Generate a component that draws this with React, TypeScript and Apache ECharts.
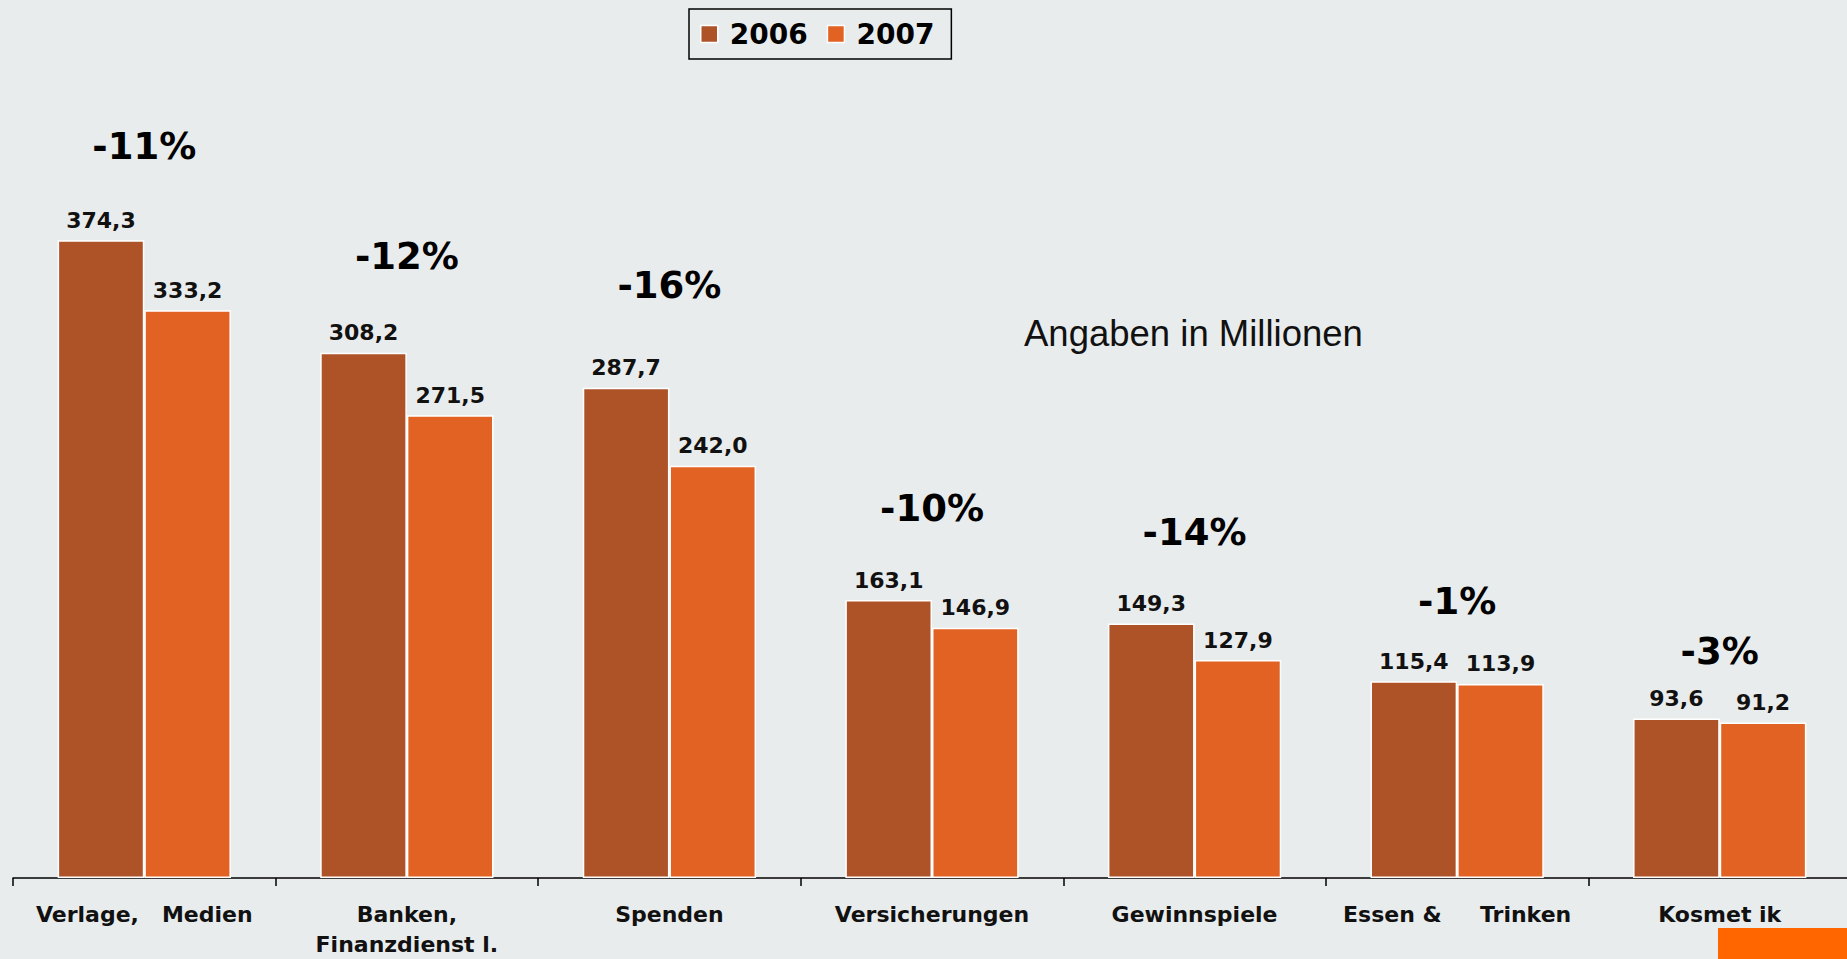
import React, { useEffect, useRef } from "react";
import * as echarts from "echarts";

const categories = [
  "Verlage,   Medien",
  "Banken,\nFinanzdienst l.",
  "Spenden",
  "Versicherungen",
  "Gewinnspiele",
  "Essen &     Trinken",
  "Kosmet ik",
];
const values2006 = [374.3, 308.2, 287.7, 163.1, 149.3, 115.4, 93.6];
const values2007 = [333.2, 271.5, 242.0, 146.9, 127.9, 113.9, 91.2];
const pctTexts = ["-11%", "-12%", "-16%", "-10%", "-14%", "-1%", "-3%"];
// vertical level (in axis units) where each change label sits
const pctLevels = [429, 365, 348, 217, 202.5, 162, 133];

const BG = "#E9ECEC";
const C2006 = "#AE5228";
const C2007 = "#E26223";

export default function App() {
  const ref = useRef<HTMLDivElement>(null);
  useEffect(() => {
    document.body.style.margin = "0";
    document.body.style.background = BG;
    const chart = echarts.init(ref.current!, null, { renderer: "svg" });
    const fmt = (p: any) => Number(p.value).toFixed(1).replace(".", ",");
    const valueLabel = {
      show: true,
      position: "top",
      distance: 9,
      formatter: fmt,
      fontFamily: "DejaVu Sans",
      fontWeight: "bold",
      fontSize: 22,
      color: "#111",
    };
    chart.setOption({
      animation: false,
      backgroundColor: BG,
      legend: {
        data: ["2006", "2007"],
        left: 689,
        top: 9,
        padding: [11, 17, 11, 11],
        itemGap: 19,
        itemWidth: 17,
        itemHeight: 17,
        icon: "rect",
        borderColor: "#000",
        borderWidth: 1.5,
        itemStyle: { borderColor: "#fff", borderWidth: 1.5 },
        textStyle: {
          fontFamily: "DejaVu Sans",
          fontWeight: "bold",
          fontSize: 28,
          color: "#000",
          padding: [0, 0, 0, 7],
        },
      },
      grid: { left: 13, top: 26, width: 1838, height: 853, containLabel: false },
      xAxis: {
        type: "category",
        data: categories,
        axisLine: { lineStyle: { color: "#000", width: 1.5 } },
        axisTick: { show: true, length: 8, lineStyle: { color: "#000", width: 1.5 } },
        axisLabel: {
          interval: 0,
          margin: 21,
          fontFamily: "DejaVu Sans",
          fontWeight: "bold",
          fontSize: 22,
          lineHeight: 30,
          color: "#111",
        },
      },
      yAxis: {
        type: "value",
        min: 0,
        max: 500,
        show: false,
        splitLine: { show: false },
      },
      graphic: [
        {
          type: "rect",
          left: 1718,
          top: 928,
          z: 0,
          shape: { width: 160, height: 31 },
          style: { fill: "#FF6600" },
        },
        {
          type: "text",
          left: 1024,
          top: 315,
          style: {
            text: "Angaben in Millionen",
            font: "36.5px 'Liberation Sans'",
            fill: "#111",
          },
        },
      ],
      series: [
        {
          name: "2006",
          type: "bar",
          data: values2006,
          barGap: "0%",
          barCategoryGap: "34%",
          itemStyle: { color: C2006, borderColor: "#fff", borderWidth: 1.5 },
          label: valueLabel,
        },
        {
          name: "2007",
          type: "bar",
          data: values2007,
          barGap: "0%",
          barCategoryGap: "34%",
          itemStyle: { color: C2007, borderColor: "#fff", borderWidth: 1.5 },
          label: valueLabel,
        },
        {
          name: "change",
          type: "scatter",
          data: pctLevels,
          symbolSize: 0,
          silent: true,
          itemStyle: { opacity: 1 },
          label: {
            show: true,
            position: "inside",
            formatter: (p: any) => pctTexts[p.dataIndex],
            fontFamily: "DejaVu Sans",
            fontWeight: "bold",
            fontSize: 37,
            color: "#000",
            opacity: 1,
          },
        },
      ],
    });
    return () => chart.dispose();
  }, []);
  return (
    <div style={{ width: 1847, height: 959, overflow: "hidden", background: BG }}>
      <div ref={ref} style={{ width: 1880, height: 959 }} />
    </div>
  );
}
